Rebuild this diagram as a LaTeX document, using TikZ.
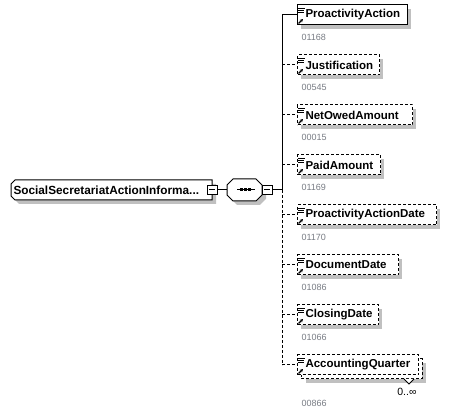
\documentclass[tikz,border=0pt]{standalone}
\usepackage{fontspec}
\setmainfont{Liberation Sans}
\usetikzlibrary{calc,arrows.meta}
\definecolor{shadowgray}{RGB}{192,192,192}
\definecolor{numgray}{RGB}{120,124,132}
\begin{document}
\begin{tikzpicture}[x=1pt,y=-1pt,line width=1pt,
  solidline/.style={solid},
  dashline/.style={dash pattern=on 3pt off 2pt},
  elem/.style={draw,fill=white,anchor=west,inner xsep=8pt,inner ysep=0pt,minimum height=20pt,align=left,
     font=\bfseries\fontsize{11.5}{13}\selectfont},
  numlabel/.style={anchor=west,inner sep=0pt,text=numgray,font=\fontsize{9}{10}\selectfont},
  minusbox/.style={draw,fill=white,minimum width=10pt,minimum height=9pt,inner sep=0pt},
  shadowfill/.style={fill=shadowgray,draw=none},
  refarrow/.style={line width=1.2pt,-{Stealth[length=3.2pt,width=3.4pt]}}]
\useasboundingbox (0,0) rectangle (451,417);

% ---------- main element ----------
\fill[shadowfill] (19,184) -- (216,184) -- (216,204) -- (19,204) -- (15,200) -- (15,188) -- cycle;
\draw[fill=white] (15,180) -- (212,180) -- (212,200) -- (15,200) -- (11,196) -- (11,184) -- cycle;
\node[draw=none,minimum width=201pt,minimum height=20pt,inner sep=0pt,anchor=west] (main) at (11,190) {};
\node[anchor=west,inner sep=0pt,font=\bfseries\fontsize{11.8}{13}\selectfont] (maintext) at (13,190) {SocialSecretariatActionInforma...};
\node[minusbox] (mainminus) at (212,190) {};
\draw ($(mainminus.center)+(-3,0)$) -- ($(mainminus.center)+(3,0)$);

% ---------- sequence ----------
\fill[shadowfill] (237,183) -- (260,183) -- (266,189) -- (266,199) -- (260,205) -- (237,205) -- (231,199) -- (231,189) -- cycle;
\draw[fill=white] (233,179) -- (256,179) -- (262,185) -- (262,195) -- (256,201) -- (233,201) -- (227,195) -- (227,185) -- cycle;
\node[draw=none,minimum width=35pt,minimum height=22pt,inner sep=0pt] (seq) at (244.5,190) {};
\draw (237,190) -- (255,190);
\foreach \dx in {241,245,249} \fill (\dx-1.5,188.5) rectangle (\dx+1.5,191.5);
\node[minusbox] (seqminus) at (267,190) {};
\draw ($(seqminus.center)+(-3,0)$) -- ($(seqminus.center)+(3,0)$);

\draw (mainminus.east) -- (seq.west);
\coordinate (spine) at (282,190);
\draw (seqminus.east) -- (spine);

% ---------- children ----------
\foreach \i/\lab/\num/\w/\st in {
  1/ProactivityAction/01168/110/solidline,
  2/Justification/00545/82/dashline,
  3/NetOwedAmount/00015/115/dashline,
  4/PaidAmount/01169/83/dashline,
  5/ProactivityActionDate/01170/139/dashline,
  6/DocumentDate/01086/101/dashline,
  7/ClosingDate/01066/81/dashline}{
  \pgfmathsetmacro\t{5+50*(\i-1)}
  \pgfmathsetmacro\tw{\w-16}
  \fill[shadowfill] (301,\t+4) rectangle (297+\w+4,\t+24);
  \node[elem,\st,text width=\tw pt,minimum width=\w pt] (e\i) at (297,\t+10) {\mbox{\lab}};
  \draw[line width=0.9pt] (298,\t+3) -- (305,\t+3) (298,\t+5) -- (304,\t+5) (298,\t+7) -- (304,\t+7);
  \draw[refarrow] (298.5,\t+18.5) -- (303,\t+14);
  \node[numlabel] (n\i) at (301,\t+32) {\num};
}

% AccountingQuarter (repeated element)
\fill[shadowfill] (306,363) rectangle (426,383);
\draw[dashline,fill=white] (301,359) rectangle (422,379);
\draw[line width=0.8pt,fill=white] (404,379) -- (409,384) -- (414,379);
\node[elem,dashline,text width=105pt,minimum width=121pt] (e8) at (297,365) {\mbox{AccountingQuarter}};
\draw[line width=0.9pt] (298,358) -- (305,358) (298,360) -- (304,360) (298,362) -- (304,362);
\draw[refarrow] (298.5,373.5) -- (303,369);
\node[anchor=east,inner sep=0pt,font=\fontsize{10.5}{11}\selectfont] (mult) at (417,392) {0..∞};
\node[numlabel] (n8) at (301,403) {00866};

% ---------- connectors from the sequence spine ----------
\draw (spine) -- (spine |- e1.west) -- (e1.west);
\draw[dashline] (spine) -- (spine |- e8.west);
\foreach \i in {2,...,8} \draw[dashline] (spine |- e\i.west) -- (e\i.west);
\end{tikzpicture}
\end{document}
